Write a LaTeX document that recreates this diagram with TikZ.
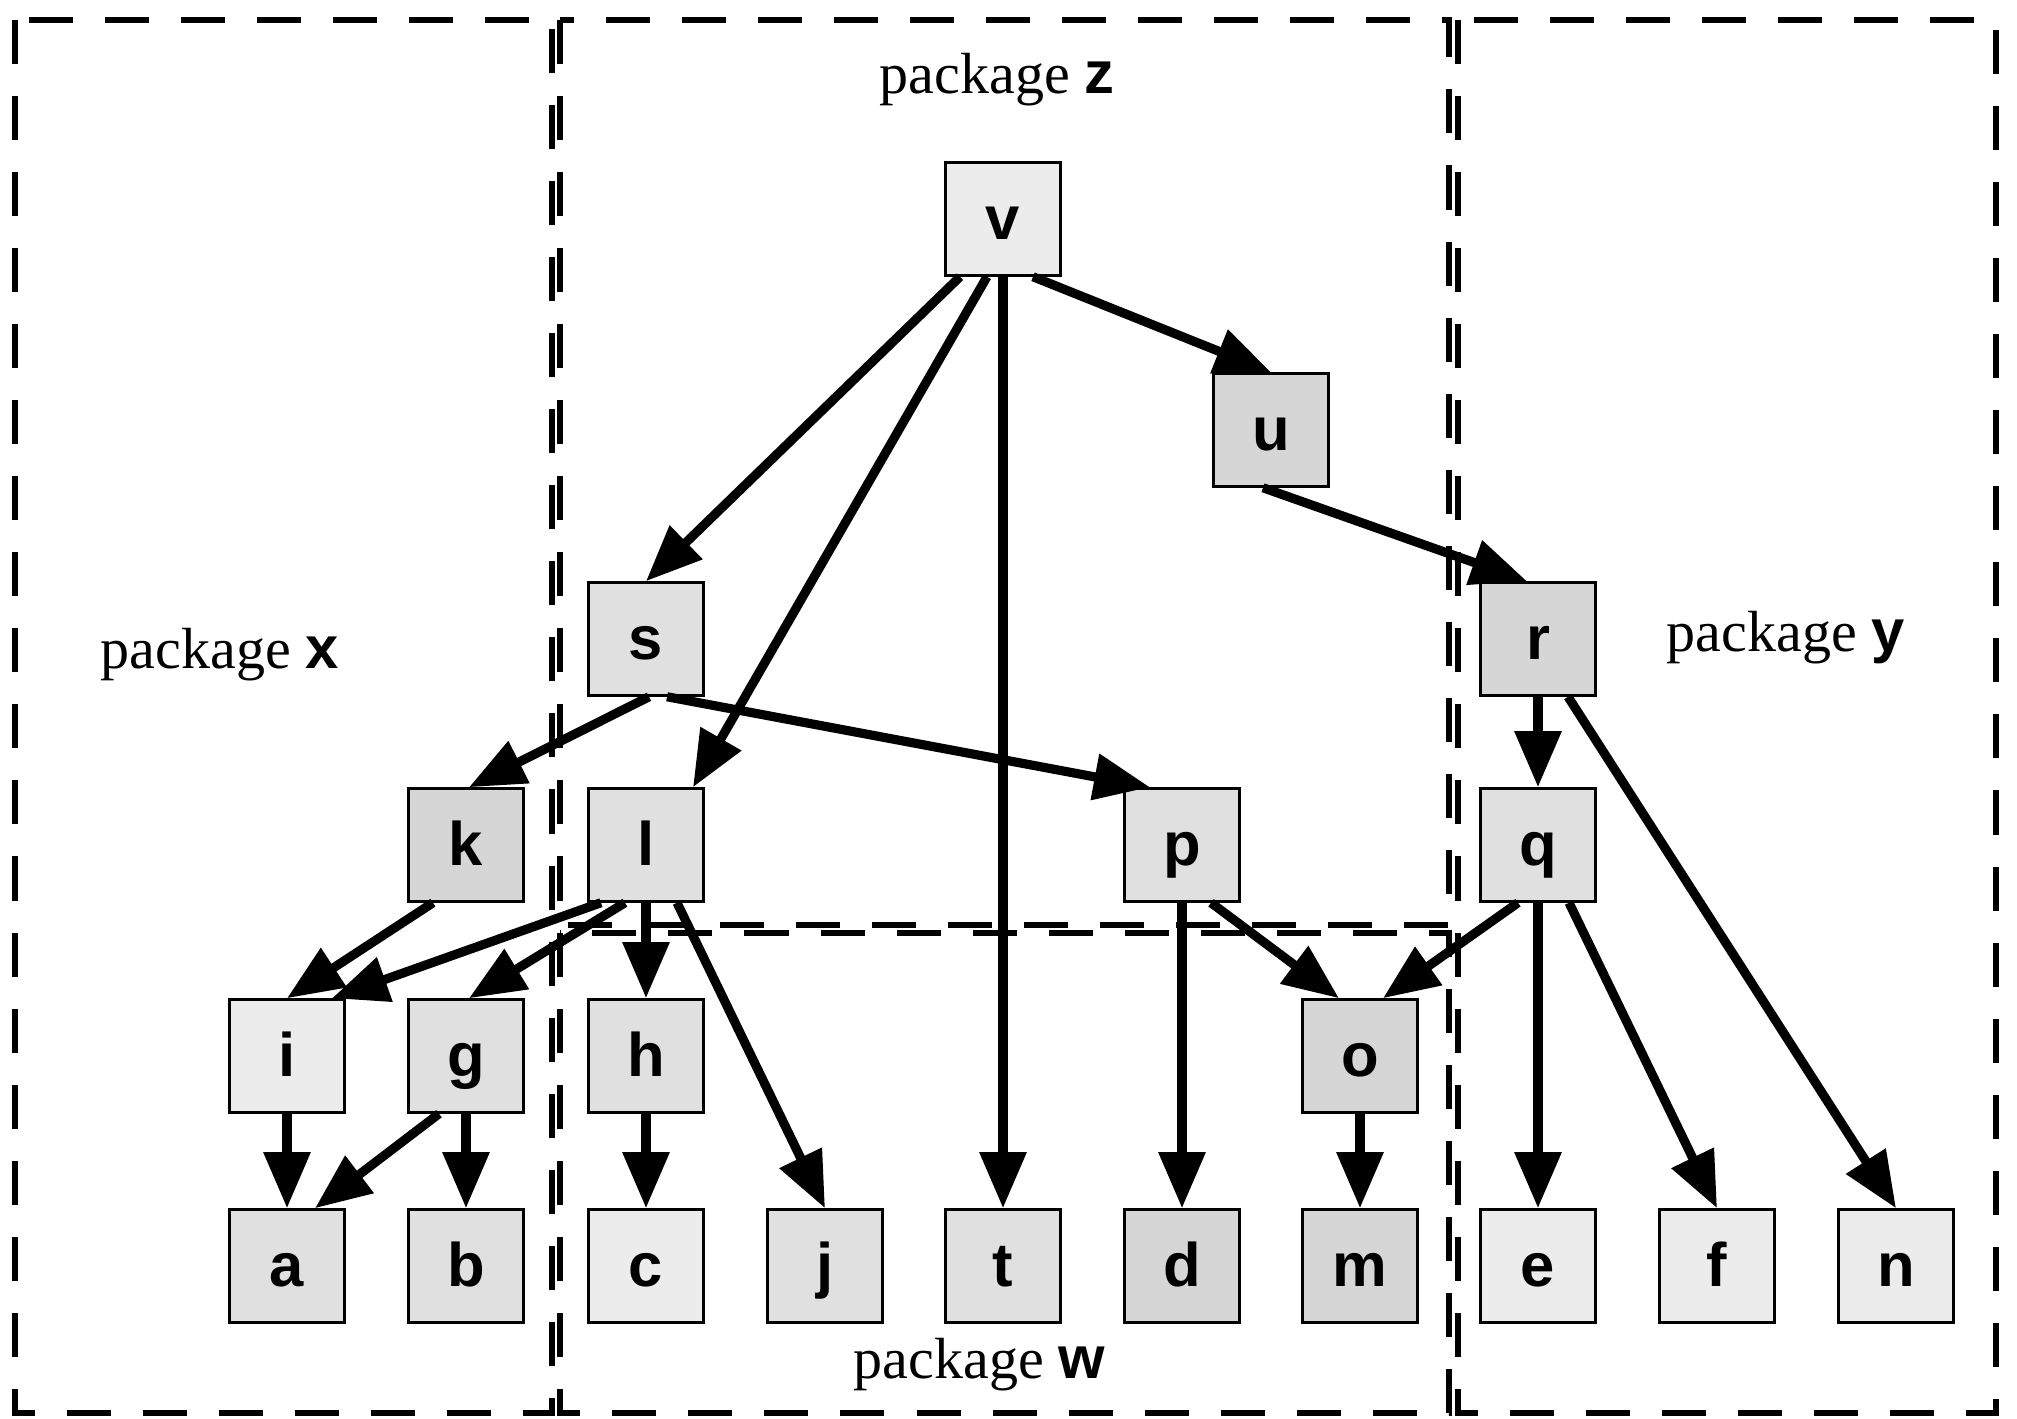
\documentclass[tikz,border=0pt]{standalone}
\usepackage{fontspec}
\setmainfont{Liberation Serif}
\newfontfamily\hsans{Liberation Sans}
\usetikzlibrary{arrows.meta}
\tikzset{
  pkg/.style={line width=1.9pt, dash pattern=on 0.44cm off 0.32cm},
  box/.style={draw, line width=0.7pt, minimum width=1.15cm, minimum height=1.13cm,
    inner sep=0pt, text height=0.4cm, text depth=0pt,
    font=\hsans\bfseries\fontsize{17.5}{17.5}\selectfont},
  lt/.style={box, fill=gray!15},
  md/.style={box, fill=gray!24},
  dk/.style={box, fill=gray!32},
  lbl/.style={anchor=base west, inner sep=0pt, font=\fontsize{16.5}{18}\selectfont},
  arr/.style={line width=2.6pt, -{Triangle[length=0.56cm, width=0.45cm]}}
}
\newcommand{\pk}[1]{{\hsans\bfseries\fontsize{17}{17}\selectfont #1}}
\begin{document}
\begin{tikzpicture}[x=0.01cm, y=-0.01cm]
\useasboundingbox (0,0) rectangle (2017,1419);
% packages
\draw[pkg] (15,20) rectangle (552,1413);
\draw[pkg] (560,20) rectangle (1449,925);
\draw[pkg] (560,933) rectangle (1449,1413);
\draw[pkg] (1458,20) rectangle (1996,1413);
\node[lbl] (pz) at (879,94) {package \pk{z}};
\node[lbl] (px) at (100,669) {package \pk{x}};
\node[lbl] (py) at (1666,652) {package \pk{y}};
\node[lbl] (pw) at (853,1379) {package \pk{w}};
% nodes
\node[lt] (v) at (1003,219) {v};
\node[dk] (u) at (1271,430) {u};
\node[md] (s) at (646,639) {s};
\node[dk] (r) at (1538,639) {r};
\node[dk] (k) at (466,845) {k};
\node[md] (l) at (646,845) {l};
\node[md] (p) at (1182,845) {p};
\node[md] (q) at (1538,845) {q};
\node[lt] (i) at (287,1056) {i};
\node[md] (g) at (466,1056) {g};
\node[md] (h) at (646,1056) {h};
\node[dk] (o) at (1360,1056) {o};
\node[md] (a) at (287,1266) {a};
\node[md] (b) at (466,1266) {b};
\node[lt] (c) at (646,1266) {c};
\node[md] (j) at (825,1266) {j};
\node[md] (t) at (1003,1266) {t};
\node[dk] (d) at (1182,1266) {d};
\node[dk] (m) at (1360,1266) {m};
\node[lt] (e) at (1538,1266) {e};
\node[lt] (f) at (1717,1266) {f};
\node[lt] (n) at (1896,1266) {n};
% edges
\draw[arr] ([xshift=-0.43cm]v.south) -- (s.north);
\draw[arr] ([xshift=-0.16cm]v.south) -- ([xshift=0.47cm]l.north);
\draw[arr] (v.south) -- (t.north);
\draw[arr] ([xshift=0.30cm]v.south) -- (u.north);
\draw[arr] ([xshift=-0.08cm]u.south) -- ([xshift=-0.11cm]r.north);
\draw[arr] ([xshift=0.03cm]s.south) -- ([xshift=0.03cm]k.north);
\draw[arr] ([xshift=0.21cm]s.south) -- ([xshift=-0.32cm]p.north);
\draw[arr] ([xshift=-0.45cm]l.south) -- ([xshift=0.45cm]i.north);
\draw[arr] ([xshift=-0.21cm]l.south) -- ([xshift=0.03cm]g.north);
\draw[arr] (l.south) -- (h.north);
\draw[arr] ([xshift=0.31cm]l.south) -- (j.north);
\draw[arr] ([xshift=-0.33cm]k.south) -- (i.north);
\draw[arr] (i.south) -- (a.north);
\draw[arr] ([xshift=-0.27cm]g.south) -- ([xshift=0.28cm]a.north);
\draw[arr] (g.south) -- (b.north);
\draw[arr] (h.south) -- (c.north);
\draw[arr] (p.south) -- (d.north);
\draw[arr] ([xshift=0.29cm]p.south) -- ([xshift=-0.21cm]o.north);
\draw[arr] ([xshift=-0.20cm]q.south) -- ([xshift=0.23cm]o.north);
\draw[arr] (o.south) -- (m.north);
\draw[arr] (r.south) -- (q.north);
\draw[arr] ([xshift=0.30cm]r.south) -- (n.north);
\draw[arr] (q.south) -- (e.north);
\draw[arr] ([xshift=0.31cm]q.south) -- (f.north);
\end{tikzpicture}
\end{document}
